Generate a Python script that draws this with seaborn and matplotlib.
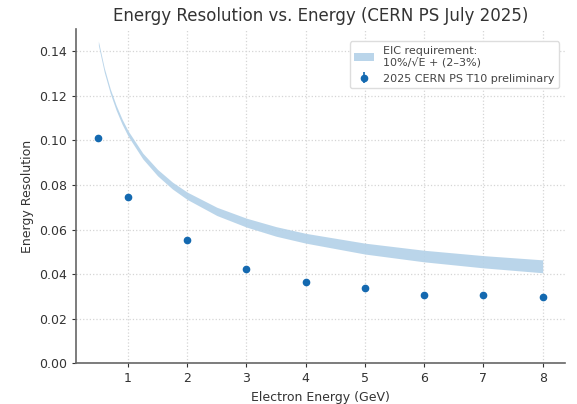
import matplotlib
matplotlib.use("Agg")
import matplotlib.pyplot as plt
import seaborn as sns

# EIC requirement band
band_energy = [0.5, 0.6, 0.7, 0.8, 0.9, 1.0, 1.25, 1.5, 1.75, 2.0, 2.5, 3.0, 3.5, 4.0, 5.0, 6.0, 7.0, 8.0]
band_low = [0.1428, 0.1306, 0.1212, 0.1136, 0.1073, 0.1020, 0.0917, 0.0841, 0.0782, 0.0735,
            0.0663, 0.0611, 0.0570, 0.0539, 0.0490, 0.0455, 0.0428, 0.0406]
band_high = [0.1446, 0.1325, 0.1232, 0.1158, 0.1096, 0.1044, 0.0943, 0.0870, 0.0813, 0.0768,
             0.0700, 0.0651, 0.0613, 0.0583, 0.0539, 0.0507, 0.0483, 0.0464]

# 2025 CERN PS T10 preliminary points
energy = [0.5, 1, 2, 3, 4, 5, 6, 7, 8]
resolution = [0.1013, 0.0748, 0.0552, 0.0422, 0.0366, 0.0339, 0.0305, 0.0305, 0.0296]
resolution_err = [0.0008, 0.0006, 0.0005, 0.0004, 0.0004, 0.0004, 0.0003, 0.0003, 0.0003]

sns.set_theme(style="whitegrid")
plt.rcParams['font.family'] = ['DejaVu Sans']

fig, ax = plt.subplots(figsize=(5.77, 4.04), dpi=100)
fig.subplots_adjust(left=0.132, right=0.979, top=0.928, bottom=0.101)

ax.fill_between(band_energy, band_low, band_high, color='#b3d1e8', alpha=0.9, linewidth=0,
                label='EIC requirement:\n10%/\u221aE + (2\u20133%)')
ax.errorbar(energy, resolution, yerr=resolution_err, fmt='o', color='#1469b0', ms=4.5,
            elinewidth=1.2, capsize=0, label='2025 CERN PS T10 preliminary')

ax.set_ylim(0, 0.15)
ax.set_yticks([0.0, 0.02, 0.04, 0.06, 0.08, 0.10, 0.12, 0.14])
ax.set_xticks([1, 2, 3, 4, 5, 6, 7, 8])
ax.set_facecolor('white')
ax.grid(True, linestyle=':', color='#d5d5d5', linewidth=0.9)
sns.despine(ax=ax)
for side in ['left', 'bottom']:
    ax.spines[side].set_color('#666666')
    ax.spines[side].set_linewidth(1.2)
ax.tick_params(axis='both', which='major', labelsize=9, colors='#333333',
               length=3, width=0.8, direction='out', left=True, bottom=True)

ax.set_xlabel('Electron Energy (GeV)', fontsize=9, color='#333333')
ax.set_ylabel('Energy Resolution', fontsize=9, color='#333333')
ax.set_title('Energy Resolution vs. Energy (CERN PS July 2025)', fontsize=12, color='#333333')

leg = ax.legend(loc='upper right', bbox_to_anchor=(1.0, 0.98), fontsize=8, frameon=True,
                framealpha=1, edgecolor='#dddddd', handlelength=1.8, labelspacing=0.5)
for t in leg.get_texts():
    t.set_color('#444444')

fig.savefig('out.png', dpi=100)
